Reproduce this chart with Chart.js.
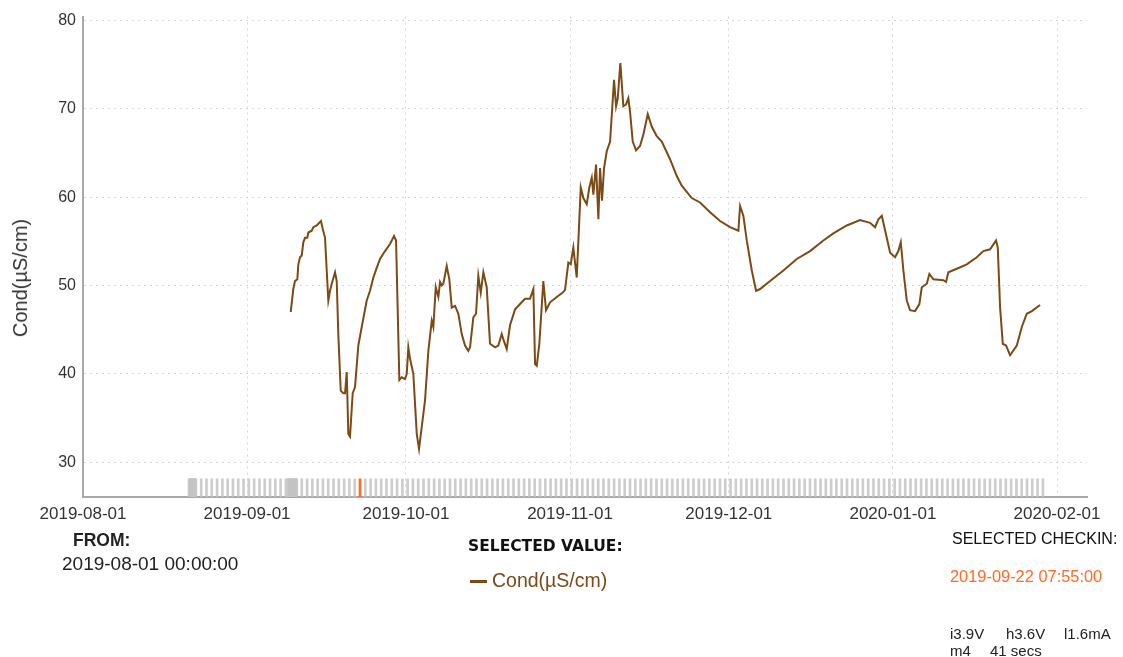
<!DOCTYPE html>
<html>
<head>
<meta charset="utf-8">
<title>Cond(µS/cm)</title>
<script src="https://cdn.jsdelivr.net/npm/chart.js@4.4.1/dist/chart.umd.min.js"></script>
<style>
  body { margin: 0; background: #fff; font-family: "Liberation Sans", Arial, sans-serif; }
  #wrap { position: relative; width: 1123px; height: 657px; overflow: hidden; }
  #wrap canvas { position: absolute; left: 0; top: 0; }
  .txt { position: absolute; white-space: nowrap; line-height: 1; color: #222; }
  #ytitle { left: 20px; top: 278px; font-size: 20px; color: #333; transform: translate(-50%, -50%) rotate(-90deg); }
  #from { left: 73px; top: 532px; font-size: 17.5px; font-weight: bold; }
  #fromDate { left: 62px; top: 554px; font-size: 19px; }
  #selValue { left: 468px; top: 539px; font-size: 15.5px; font-weight: bold; font-family: "DejaVu Sans", sans-serif; color: #111; }
  #legendLine { position: absolute; left: 470px; top: 580px; width: 17px; height: 3px; background: #7b4a15; }
  #legendText { left: 492px; top: 571px; font-size: 19.5px; color: #7b4a15; }
  #selCheckin { left: 952px; top: 531px; font-size: 16px; color: #111; }
  #checkinTime { left: 950px; top: 568px; font-size: 16.4px; color: #ff6a25; }
  .stat { font-size: 15px; color: #222; }
</style>
</head>
<body>
<div id="wrap">
  <canvas id="condChart" width="1123" height="657"></canvas>
  <div class="txt" id="ytitle">Cond(µS/cm)</div>
  <div class="txt" id="from">FROM:</div>
  <div class="txt" id="fromDate">2019-08-01 00:00:00</div>
  <div class="txt" id="selValue">SELECTED VALUE:</div>
  <div id="legendLine"></div>
  <div class="txt" id="legendText">Cond(µS/cm)</div>
  <div class="txt" id="selCheckin">SELECTED CHECKIN:</div>
  <div class="txt" id="checkinTime">2019-09-22 07:55:00</div>
  <div class="txt stat" style="left:950px;top:626px">i3.9V</div>
  <div class="txt stat" style="left:1006px;top:626px">h3.6V</div>
  <div class="txt stat" style="left:1064px;top:626px">l1.6mA</div>
  <div class="txt stat" style="left:950px;top:643px">m4</div>
  <div class="txt stat" style="left:990px;top:643px">41 secs</div>
</div>
<script>
// axis range and tick labels
const rangeStart = "2019-08-01 00:00";
const rangeEnd = "2020-02-06 16:00";
const monthTicks = ["2019-08-01", "2019-09-01", "2019-10-01", "2019-11-01", "2019-12-01", "2020-01-01", "2020-02-01"];
const condTicks = [30, 40, 50, 60, 70, 80];
const condMin = 26.05;
const condMax = 80.45;

// conductivity readings
const readingTimes = [
  "2019-09-09 05:45", "2019-09-09 17:30", "2019-09-10 01:00", "2019-09-10 11:45", "2019-09-10 16:20",
  "2019-09-11 00:00", "2019-09-11 07:40", "2019-09-11 15:00", "2019-09-11 22:40", "2019-09-12 09:00",
  "2019-09-12 13:40", "2019-09-13 05:00", "2019-09-13 12:15", "2019-09-14 03:40", "2019-09-14 15:25",
  "2019-09-14 23:00", "2019-09-15 07:00", "2019-09-15 17:20", "2019-09-16 01:00", "2019-09-16 08:15",
  "2019-09-16 16:00", "2019-09-16 23:45", "2019-09-17 14:40", "2019-09-17 22:20", "2019-09-18 05:30",
  "2019-09-18 16:30", "2019-09-19 04:20", "2019-09-19 12:00", "2019-09-19 19:40", "2019-09-20 03:00",
  "2019-09-20 10:35", "2019-09-20 22:50", "2019-09-21 09:20", "2019-09-22 00:15", "2019-09-22 15:40",
  "2019-09-23 14:25", "2019-09-24 05:20", "2019-09-24 20:20", "2019-09-25 11:45", "2019-09-26 02:40",
  "2019-09-27 01:25", "2019-09-28 00:00", "2019-09-28 18:10", "2019-09-29 03:20", "2019-09-29 18:15",
  "2019-09-30 05:00", "2019-09-30 20:00", "2019-10-01 03:50", "2019-10-01 11:00", "2019-10-01 18:45",
  "2019-10-02 09:40", "2019-10-03 01:10", "2019-10-03 11:30", "2019-10-03 23:45", "2019-10-04 14:40",
  "2019-10-05 05:45", "2019-10-05 21:10", "2019-10-06 04:20", "2019-10-06 15:20", "2019-10-07 03:10",
  "2019-10-07 10:50", "2019-10-07 18:30", "2019-10-08 01:40", "2019-10-08 17:05", "2019-10-09 04:50",
  "2019-10-09 15:50", "2019-10-10 06:45", "2019-10-10 21:50", "2019-10-11 13:10", "2019-10-12 04:05",
  "2019-10-12 19:00", "2019-10-13 02:50", "2019-10-13 17:45", "2019-10-14 06:00", "2019-10-14 16:20",
  "2019-10-15 03:20", "2019-10-15 15:10", "2019-10-16 06:30", "2019-10-16 21:20", "2019-10-17 20:10",
  "2019-10-18 11:00", "2019-10-19 02:25", "2019-10-19 09:50", "2019-10-20 01:10", "2019-10-20 16:05",
  "2019-10-21 14:50", "2019-10-22 13:30", "2019-10-23 12:10", "2019-10-24 10:50", "2019-10-25 01:55",
  "2019-10-25 09:35", "2019-10-25 17:15", "2019-10-26 05:00", "2019-10-26 23:05", "2019-10-27 11:20",
  "2019-10-28 05:30", "2019-10-29 12:00", "2019-10-30 15:10", "2019-10-31 01:30", "2019-10-31 16:30",
  "2019-11-01 03:20", "2019-11-01 15:10", "2019-11-02 06:30", "2019-11-03 00:45", "2019-11-03 12:30",
  "2019-11-04 03:50", "2019-11-04 15:35", "2019-11-05 02:40", "2019-11-05 09:50", "2019-11-05 22:05",
  "2019-11-06 08:40", "2019-11-06 16:20", "2019-11-07 01:15", "2019-11-07 10:20", "2019-11-07 22:35",
  "2019-11-08 13:40", "2019-11-09 07:40", "2019-11-09 16:50", "2019-11-10 00:30", "2019-11-10 12:15",
  "2019-11-11 01:55", "2019-11-11 14:10", "2019-11-12 00:30", "2019-11-12 08:10", "2019-11-12 20:25",
  "2019-11-13 11:30", "2019-11-14 05:30", "2019-11-14 20:40", "2019-11-15 16:35", "2019-11-16 10:35",
  "2019-11-17 09:20", "2019-11-18 08:00", "2019-11-19 21:35", "2019-11-21 04:05", "2019-11-22 02:40",
  "2019-11-24 00:00", "2019-11-25 13:40", "2019-11-27 11:00", "2019-11-29 08:25", "2019-12-01 05:45",
  "2019-12-02 19:25", "2019-12-03 03:05", "2019-12-03 18:00", "2019-12-04 09:25", "2019-12-05 08:10",
  "2019-12-06 03:35", "2019-12-06 21:50", "2019-12-08 19:10", "2019-12-11 07:25", "2019-12-13 20:10",
  "2019-12-16 08:25", "2019-12-18 20:40", "2019-12-20 18:00", "2019-12-23 06:45", "2019-12-25 19:10",
  "2019-12-27 16:30", "2019-12-28 15:10", "2019-12-29 06:15", "2019-12-29 21:40", "2019-12-30 20:10",
  "2019-12-31 11:15", "2020-01-01 09:50", "2020-01-02 00:45", "2020-01-02 11:45", "2020-01-02 23:30",
  "2020-01-03 14:55", "2020-01-04 05:45", "2020-01-05 04:30", "2020-01-06 00:00", "2020-01-06 10:50",
  "2020-01-07 09:35", "2020-01-07 21:20", "2020-01-08 15:25", "2020-01-10 12:45", "2020-01-11 01:00",
  "2020-01-11 11:30", "2020-01-13 01:25", "2020-01-14 22:50", "2020-01-16 20:10", "2020-01-18 02:10",
  "2020-01-19 08:40", "2020-01-20 11:45", "2020-01-20 19:25", "2020-01-21 06:00", "2020-01-21 18:15",
  "2020-01-22 09:10", "2020-01-23 03:20", "2020-01-24 09:40", "2020-01-25 08:25", "2020-01-26 07:00",
  "2020-01-27 05:45", "2020-01-28 19:10"
];
const condValues = [
  47.0, 49.6, 50.5, 50.7, 52.4, 53.2, 53.4, 54.9, 55.4, 55.4,
  56.0, 56.2, 56.6, 56.8, 57.1, 57.3, 56.4, 55.4, 51.7, 48.3,
  49.4, 50.2, 51.5, 50.5, 44.5, 38.1, 37.8, 37.8, 40.2, 33.2,
  32.9, 37.8, 38.5, 43.2, 45.3, 48.3, 49.4, 50.9, 52.0, 53.0,
  53.9, 54.7, 55.6, 55.1, 39.3, 39.6, 39.4, 40.0, 43.0, 41.7,
  40.0, 33.2, 31.5, 34.0, 37.0, 42.6, 46.0, 45.3, 49.8, 48.7,
  50.4, 50.0, 50.2, 52.2, 50.7, 47.5, 47.7, 46.8, 44.5, 43.2,
  42.6, 43.0, 46.4, 46.8, 51.1, 49.2, 51.5, 49.8, 43.4, 43.0,
  43.2, 44.5, 43.9, 42.8, 45.5, 47.3, 47.9, 48.5, 48.5, 49.6,
  41.1, 40.9, 43.4, 50.5, 47.2, 48.1, 48.7, 49.2, 49.5, 52.6,
  52.4, 54.3, 50.9, 61.1, 59.9, 59.2, 61.1, 62.2, 60.3, 63.7,
  57.5, 63.3, 59.6, 63.3, 65.2, 66.3, 73.3, 70.3, 71.2, 75.2,
  70.3, 70.5, 71.2, 69.7, 66.3, 65.3, 65.8, 67.1, 69.4, 68.0,
  66.9, 66.3, 64.3, 62.4, 61.3, 59.9, 59.4, 58.3, 57.3, 56.6,
  56.2, 59.0, 57.9, 55.1, 51.7, 49.4, 49.6, 50.5, 51.7, 53.0,
  53.9, 55.1, 55.9, 56.8, 57.4, 57.1, 56.6, 57.5, 57.9, 55.4,
  53.7, 53.2, 53.9, 54.9, 51.7, 48.3, 47.2, 47.1, 47.9, 49.8,
  50.2, 51.3, 50.7, 50.6, 50.4, 51.5, 51.9, 52.4, 53.2, 53.9,
  54.1, 55.1, 54.3, 47.5, 43.4, 43.2, 42.1, 43.2, 45.3, 46.8,
  47.1, 47.8
];

// device check-ins (daily at checkinTime, plus dense runs)
const checkinTime = "07:55";
const checkinsAug = [21, 22, 23, 24, 25, 26, 27, 28, 29, 30, 31];
const checkinsSep = [1, 2, 3, 4, 5, 6, 7, 8, 9, 10, 11, 12, 13, 14, 15, 16, 17, 18, 19, 20, 21, 23, 24, 25, 26, 27, 28, 29, 30];
const checkinsOct = [1, 2, 3, 4, 5, 6, 7, 8, 9, 10, 11, 12, 13, 14, 15, 16, 17, 18, 19, 20, 21, 22, 23, 24, 25, 26, 27, 28, 29, 30, 31];
const checkinsNov = [1, 2, 3, 4, 5, 6, 7, 8, 9, 10, 11, 12, 13, 14, 15, 16, 17, 18, 19, 20, 21, 22, 23, 24, 25, 26, 27, 28, 29, 30];
const checkinsDec = [1, 2, 3, 4, 5, 6, 7, 8, 9, 10, 11, 12, 13, 14, 15, 16, 17, 18, 19, 20, 21, 22, 23, 24, 25, 26, 27, 28, 29, 30, 31];
const checkinsJan = [1, 2, 3, 4, 5, 6, 7, 8, 9, 10, 11, 12, 13, 14, 15, 16, 17, 18, 19, 20, 21, 22, 23, 24, 25, 26, 27, 28, 29];
const denseCheckins = [
  "2019-08-21 00:30", "2019-08-21 03:30", "2019-08-21 06:30", "2019-08-21 09:30", "2019-08-21 12:30",
  "2019-08-21 15:30", "2019-08-21 18:30", "2019-08-21 21:30", "2019-08-22 00:30", "2019-08-22 03:30",
  "2019-09-08 17:00", "2019-09-08 20:00", "2019-09-08 23:00", "2019-09-09 02:00", "2019-09-09 05:00",
  "2019-09-09 08:00", "2019-09-09 11:00", "2019-09-09 14:00", "2019-09-09 17:00", "2019-09-09 20:00",
  "2019-09-09 23:00", "2019-09-10 02:00", "2019-09-10 05:00", "2019-09-10 08:00"
];
const selectedCheckin = "2019-09-22 07:55";

const lineColor = "#7b4a15";
const toMs = s => Date.parse(s.replace(" ", "T") + ":00Z");
const pad2 = n => String(n).padStart(2, "0");
const fmtDay = ms => {
  const d = new Date(ms);
  return d.getUTCFullYear() + "-" + pad2(d.getUTCMonth() + 1) + "-" + pad2(d.getUTCDate());
};

const condPoints = readingTimes.map((t, i) => ({ x: toMs(t), y: condValues[i] }));

const checkinMonths = [
  ["2019-08", checkinsAug], ["2019-09", checkinsSep], ["2019-10", checkinsOct],
  ["2019-11", checkinsNov], ["2019-12", checkinsDec], ["2020-01", checkinsJan]
];
const checkinStamps = checkinMonths
  .flatMap(([m, days]) => days.map(d => m + "-" + pad2(d) + " " + checkinTime))
  .concat(denseCheckins);
// strip height in axis units, sitting on the bottom of the y range
const stripTop = 28.1;
const checkinPoints = checkinStamps.map(s => ({ x: toMs(s), y: stripTop }));
const selectedPoints = [{ x: toMs(selectedCheckin), y: stripTop }];

const gridColor = "#d6d6d6";
const axisColor = "#a8a8a8";

new Chart(document.getElementById("condChart"), {
  type: "line",
  data: {
    datasets: [
      {
        label: "Cond(µS/cm)",
        data: condPoints,
        borderColor: lineColor,
        borderWidth: 2,
        pointRadius: 0,
        tension: 0,
        order: 0
      },
      {
        type: "bar",
        label: "checkins",
        data: checkinPoints,
        backgroundColor: "rgba(196,196,196,0.85)",
        borderWidth: 0,
        barThickness: 2,
        grouped: false,
        order: 2
      },
      {
        type: "bar",
        label: "selected",
        data: selectedPoints,
        backgroundColor: "#ff6a25",
        borderWidth: 0,
        barThickness: 2,
        grouped: false,
        order: 1
      }
    ]
  },
  options: {
    responsive: false,
    animation: false,
    layout: { padding: { left: 0, top: 15, right: 36, bottom: 130 } },
    plugins: { legend: { display: false }, tooltip: { enabled: false } },
    scales: {
      x: {
        type: "linear",
        offset: false,
        min: toMs(rangeStart),
        max: toMs(rangeEnd),
        afterBuildTicks: scale => { scale.ticks = monthTicks.map(m => ({ value: toMs(m + " 00:00") })); },
        afterFit: scale => { scale.height = 30; },
        ticks: {
          autoSkip: false,
          maxRotation: 0,
          padding: 7,
          color: "#333",
          font: { family: "'Liberation Sans', Arial, sans-serif", size: 17 },
          callback: v => fmtDay(v)
        },
        grid: { color: gridColor, drawTicks: false, offset: false },
        border: { color: axisColor, width: 2, dash: [2, 4] }
      },
      y: {
        min: condMin,
        max: condMax,
        afterBuildTicks: scale => { scale.ticks = condTicks.map(v => ({ value: v })); },
        afterFit: scale => { scale.width = 83; },
        ticks: {
          padding: 7,
          color: "#333",
          font: { family: "'Liberation Sans', Arial, sans-serif", size: 16 }
        },
        grid: { color: gridColor, drawTicks: false },
        border: { color: axisColor, width: 2, dash: [2, 4] }
      }
    }
  }
});
</script>
</body>
</html>
